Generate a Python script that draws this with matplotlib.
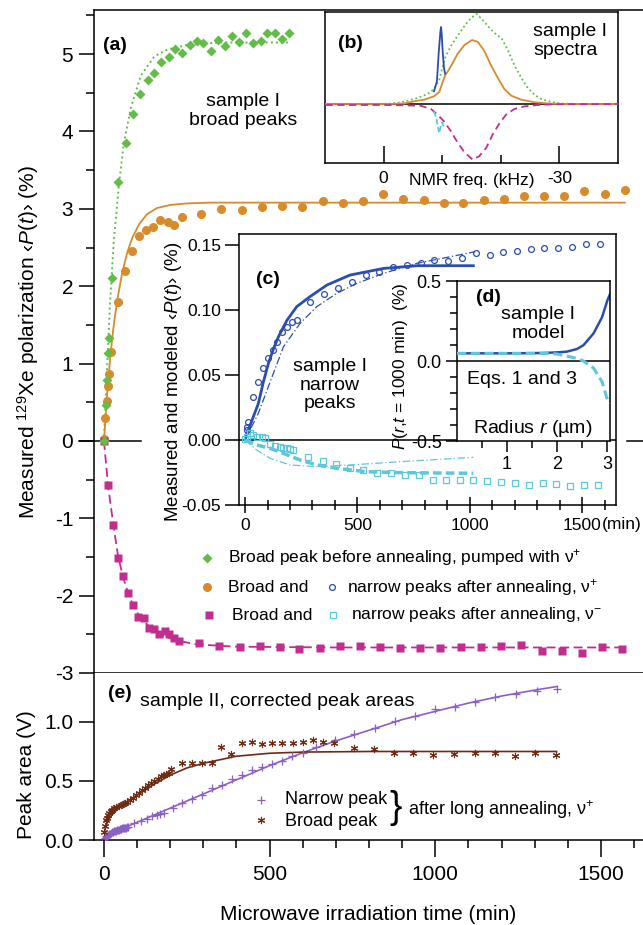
import matplotlib
matplotlib.use("Agg")
import matplotlib.pyplot as plt
from matplotlib.lines import Line2D
from matplotlib.ticker import FixedLocator, MultipleLocator, NullFormatter, FixedFormatter

plt.rcParams['font.family'] = ['Liberation Sans', 'DejaVu Sans']
plt.rcParams['mathtext.fontset'] = 'custom'
plt.rcParams['mathtext.rm'] = 'Liberation Sans'
plt.rcParams['mathtext.it'] = 'Liberation Sans:italic'
plt.rcParams['mathtext.bf'] = 'Liberation Sans:bold'
plt.rcParams['axes.unicode_minus'] = False
plt.rcParams['axes.linewidth'] = 1.1

GREEN = '#62BD48'
ORANGE = '#D68B2C'
MAGENTA = '#C22E90'
BLUE = '#2B4DAE'
CYAN = '#5EC7DB'
PURPLE = '#8B5FC6'
BROWN = '#6E2B14'

# ---------------- panel (a): broad peaks ----------------
green_t = [1, 6, 9, 13, 14, 24, 43, 66, 88, 109, 132, 152, 172, 195, 214, 237, 259, 282, 300,
           322, 344, 365, 386, 408, 430, 451, 473, 493, 515, 538, 558]
green_p = [0.0, 0.47, 0.79, 1.13, 1.33, 2.11, 3.35, 3.85, 4.23, 4.48, 4.66, 4.75, 4.90, 4.96,
           5.06, 5.02, 5.12, 5.17, 5.14, 5.04, 5.18, 5.10, 5.23, 5.15, 5.27, 5.14, 5.17, 5.27,
           5.27, 5.20, 5.27]
green_fit_t = [0, 5, 10, 18, 30, 45, 60, 81, 111, 152, 192, 252, 350, 450, 558]
green_fit_p = [0, 0.5, 1.0, 1.75, 2.6, 3.3, 3.85, 4.3, 4.72, 4.97, 5.06, 5.12, 5.15, 5.15, 5.15]

orange_t = [1, 4, 8, 11, 14, 21, 41, 63, 84, 106, 127, 149, 170, 192, 212, 235, 294, 354, 418,
            478, 538, 598, 661, 721, 781, 842, 903, 965, 1025, 1085, 1146, 1208, 1268, 1329,
            1390, 1450, 1512, 1572]
orange_p = [0.03, 0.30, 0.52, 0.71, 0.86, 1.15, 1.80, 2.19, 2.45, 2.65, 2.73, 2.76, 2.85, 2.83,
            2.79, 2.90, 2.93, 3.00, 2.98, 3.03, 3.04, 3.03, 3.10, 3.08, 3.10, 3.19, 3.13, 3.11,
            3.08, 3.08, 3.11, 3.13, 3.17, 3.17, 3.16, 3.23, 3.19, 3.24]
orange_fit_t = [0, 10, 20, 30, 41, 55, 70, 85, 106, 130, 160, 200, 250, 320, 450, 700, 1000, 1572]
orange_fit_p = [0, 0.62, 1.13, 1.51, 1.84, 2.17, 2.43, 2.62, 2.80, 2.93, 3.01, 3.05, 3.07, 3.08,
                3.08, 3.08, 3.08, 3.08]

mag_t = [0, 13, 28, 43, 58, 73, 88, 102, 121, 135, 152, 167, 184, 197, 212, 227, 287, 347, 410,
         470, 530, 590, 651, 713, 774, 834, 895, 955, 1015, 1077, 1139, 1199, 1259, 1321, 1382,
         1444, 1504, 1565]
mag_p = [0.0, -0.57, -1.09, -1.51, -1.74, -1.97, -2.12, -2.27, -2.29, -2.42, -2.43, -2.49, -2.46,
         -2.49, -2.55, -2.58, -2.61, -2.65, -2.67, -2.65, -2.67, -2.69, -2.68, -2.65, -2.65,
         -2.67, -2.68, -2.68, -2.68, -2.66, -2.67, -2.65, -2.64, -2.71, -2.71, -2.74, -2.67, -2.69]
mag_fit_t = [0, 13, 29, 43, 58, 73, 88, 105, 125, 150, 180, 220, 280, 400, 700, 1000, 1300, 1565]
mag_fit_p = [0, -0.6, -1.1, -1.5, -1.76, -1.97, -2.12, -2.25, -2.35, -2.45, -2.52, -2.58,
             -2.63, -2.66, -2.67, -2.67, -2.67, -2.67]

# ---------------- panel (b): spectra ----------------
spec_green_f = [9.9, 5.1, -0.6, -2.3, -4.1, -5.8, -7.5, -8.6, -9.5, -10.1, -10.6, -11.5, -12.6,
                -13.8, -14.9, -15.9, -16.9, -17.8, -18.9, -20.1, -21.2, -22.3, -23.5, -24.6,
                -25.8, -26.9, -28.6, -30.3, -34.9, -40.2]
spec_green_v = [0, 0, 0.3, 1, 3.3, 6, 10, 15, 24, 38, 48, 58, 68, 78, 86, 90, 84, 78, 71, 66,
                54, 39, 26, 16, 9, 5, 2, 0.5, 0, 0]
spec_orange_f = [9.9, -0.6, -3.5, -5.2, -6.9, -8.6, -9.5, -10.5, -10.9, -11.8, -12.6, -13.8,
                 -15.1, -16.1, -17.2, -18.3, -19.5, -20.6, -21.8, -23.5, -25.8, -28.1, -30.3, -40.2]
spec_orange_v = [0, 0, 0.5, 2.7, 4.3, 7.7, 12, 29, 32, 41, 50, 59, 64, 62, 53, 39, 26, 15, 8.3,
                 4.3, 1.7, 0.5, 0, 0]
spec_blue_f = [-8.6, -9.1, -9.4, -9.7, -9.8, -9.9, -10.1, -10.3, -10.5]
spec_blue_v = [12.7, 22.7, 51, 72.7, 77, 71, 51, 36, 30.3]
spec_mag_f = [9.9, -0.6, -6.3, -8.1, -9.2, -10.3, -11.5, -12.6, -13.8, -15.2, -16.3, -17.5,
              -18.6, -19.8, -20.9, -22.3, -24.1, -26.3, -29.2, -40.2]
spec_mag_v = [-1, -1, -1.7, -5, -10.7, -17.3, -27.3, -38.3, -48.3, -55.7, -52.3, -44, -30.7,
              -19, -10.7, -5, -2.3, -1, -0.3, 0]
spec_cyan_f = [-8.6, -9.0, -9.3, -9.5, -9.8, -10.0, -10.2, -10.5]
spec_cyan_v = [-7.3, -14, -24, -29, -20.7, -18.3, -21.7, -19]

# ---------------- panel (c): narrow peaks ----------------
nb_t = [7, 10, 14, 37, 59, 81, 104, 123, 141, 163, 186, 208, 230, 289, 353, 412, 475, 538, 598,
        660, 720, 782, 841, 905, 964, 1027, 1088, 1150, 1209, 1271, 1332, 1394, 1455, 1516, 1578]
nb_p = [0.0077, 0.0103, 0.0141, 0.0333, 0.0449, 0.0551, 0.0628, 0.0692, 0.0756, 0.0833, 0.0872,
        0.0910, 0.0923, 0.1064, 0.1120, 0.1167, 0.1218, 0.1269, 0.1295, 0.1333, 0.1346, 0.1359,
        0.1385, 0.1380, 0.1397, 0.1436, 0.1423, 0.1449, 0.1456, 0.1467, 0.1474, 0.1479, 0.1487,
        0.1505, 0.1510]
nc_t = [0, 7, 22, 37, 52, 74, 89, 111, 134, 156, 171, 186, 200, 215, 282, 346, 405, 465, 527,
        586, 649, 712, 772, 835, 894, 956, 1016, 1078, 1139, 1201, 1264, 1325, 1384, 1447, 1509,
        1570]
nc_p = [0.0005, 0.0026, 0.0051, 0.0038, 0.0021, 0.0021, 0.0013, -0.0030, -0.0046, -0.0056,
        -0.0064, -0.0064, -0.0072, -0.0077, -0.0133, -0.0162, -0.0185, -0.0213, -0.0231, -0.0251,
        -0.0251, -0.0269, -0.0272, -0.0308, -0.0308, -0.0308, -0.0308, -0.0315, -0.0321,
        -0.0333, -0.0346, -0.0333, -0.0341, -0.0351, -0.0349, -0.0349]
nb_model_t = [0, 15, 37, 59, 82, 104, 126, 150, 186, 230, 289, 364, 467, 616, 764, 1016]
nb_model_p = [0, 0.008, 0.018, 0.028, 0.045, 0.059, 0.07, 0.08, 0.092, 0.1026, 0.1103, 0.1192,
              0.1269, 0.132, 0.1341, 0.1341]
nb_alt_t = [0, 59, 126, 171, 245, 319, 408, 497, 616, 764, 913, 1024]
nb_alt_p = [0, 0.0205, 0.0513, 0.0718, 0.0897, 0.1026, 0.1128, 0.1205, 0.1282, 0.1359, 0.141,
            0.1449]
nc_model_t = [0, 52, 111, 171, 245, 319, 408, 541, 690, 1016]
nc_model_p = [0, -0.0038, -0.0064, -0.0103, -0.0154, -0.0192, -0.0218, -0.0244, -0.0251, -0.0256]
nc_alt_t = [0, 52, 111, 200, 319, 467, 690, 1016]
nc_alt_p = [0, -0.0077, -0.0141, -0.0192, -0.0205, -0.0192, -0.0167, -0.0133]

# ---------------- panel (d): model profile ----------------
r_blue = [0, 0.5, 1.0, 1.5, 1.8, 2.0, 2.19, 2.4, 2.53, 2.73, 2.9, 3.01, 3.06]
p_blue = [0.048, 0.048, 0.048, 0.049, 0.051, 0.054, 0.058, 0.075, 0.099, 0.172, 0.273, 0.381, 0.417]
r_cyan = [0, 0.5, 1.0, 1.5, 1.8, 1.99, 2.19, 2.39, 2.53, 2.73, 2.9, 3.01, 3.06]
p_cyan = [0.048, 0.048, 0.048, 0.048, 0.047, 0.044, 0.031, 0.017, 0.0, -0.044, -0.129, -0.244,
          -0.265]

# ---------------- panel (e): sample II ----------------
narrow_t = [2, 5, 8, 11, 14, 17, 20, 23, 26, 29, 32, 35, 38, 41, 44, 47, 50, 53, 56, 59, 62, 65,
            68, 71, 74, 91, 111, 130, 145, 160, 170, 182, 207, 237, 267, 297, 327, 357, 388, 417,
            448, 478, 506, 536, 568, 600, 640, 696, 754, 817, 877, 940, 1000, 1060, 1120, 1181,
            1244, 1306, 1366]
narrow_v = [0.02, 0.03, 0.035, 0.045, 0.05, 0.055, 0.06, 0.065, 0.07, 0.073, 0.076, 0.08, 0.083,
            0.086, 0.088, 0.09, 0.093, 0.095, 0.098, 0.1, 0.1, 0.103, 0.105, 0.107, 0.11, 0.14,
            0.16, 0.18, 0.2, 0.21, 0.22, 0.23, 0.27, 0.31, 0.35, 0.38, 0.44, 0.47, 0.52, 0.55,
            0.59, 0.62, 0.64, 0.67, 0.71, 0.74, 0.79, 0.85, 0.9, 0.95, 1.01, 1.05, 1.11, 1.13,
            1.17, 1.21, 1.24, 1.26, 1.28]
narrow_fit_t = [0, 50, 100, 200, 300, 400, 500, 600, 700, 800, 900, 1000, 1100, 1200, 1300, 1366]
narrow_fit_v = [0.02, 0.09, 0.15, 0.27, 0.39, 0.51, 0.63, 0.74, 0.84, 0.93, 1.02, 1.09, 1.16,
                1.22, 1.27, 1.30]
broad_t = [0, 3, 6, 9, 12, 16, 20, 25, 31, 37, 44, 51, 58, 65, 71, 80, 88, 96, 106, 116, 125,
           133, 142, 152, 162, 172, 180, 187, 195, 202, 237, 267, 297, 327, 352, 383, 416, 448,
           478, 508, 538, 570, 600, 630, 661, 694, 754, 814, 874, 934, 994, 1056, 1119, 1180,
           1241, 1302, 1364]
broad_v = [0.07, 0.12, 0.17, 0.19, 0.21, 0.23, 0.245, 0.255, 0.27, 0.28, 0.29, 0.30, 0.305, 0.31,
           0.32, 0.34, 0.36, 0.38, 0.40, 0.42, 0.44, 0.47, 0.48, 0.50, 0.52, 0.54, 0.55, 0.56,
           0.57, 0.60, 0.65, 0.65, 0.65, 0.65, 0.79, 0.73, 0.82, 0.83, 0.81, 0.82, 0.82, 0.82,
           0.83, 0.85, 0.83, 0.82, 0.78, 0.77, 0.74, 0.74, 0.72, 0.73, 0.74, 0.74, 0.71, 0.74, 0.72]
broad_fit_t = [0, 10, 20, 40, 60, 80, 100, 150, 200, 250, 300, 350, 400, 500, 600, 800, 1000, 1366]
broad_fit_v = [0.06, 0.15, 0.2, 0.26, 0.3, 0.34, 0.38, 0.47, 0.55, 0.61, 0.65, 0.68, 0.71, 0.735,
               0.745, 0.75, 0.75, 0.75]

time_major = [0, 500, 1000, 1500]

# =====================================================================
W, H = 643, 925
fig = plt.figure(figsize=(W / 100, H / 100), dpi=100)


def axes_px(l, t, r, b):
    return fig.add_axes([l / W, 1 - b / H, (r - l) / W, (b - t) / H])


def ftext(x, y, s, **kw):
    kw.setdefault('ha', 'center')
    kw.setdefault('va', 'center')
    return fig.text(x / W, 1 - y / H, s, **kw)


def fmark(x, y, **kw):
    fig.add_artist(Line2D([x / W], [1 - y / H], transform=fig.transFigure, linestyle='none', **kw))


# ---------- main panel (a) ----------
axa = axes_px(94, 10, 643, 673)
axa.set_xlim(-30, 1627)
axa.set_ylim(-3, 5.57)
axa.spines['right'].set_visible(False)
axa.yaxis.set_major_locator(FixedLocator([-3, -2, -1, 0, 1, 2, 3, 4, 5]))
axa.yaxis.set_major_formatter(FixedFormatter(['-3', '-2', '-1', '0', '1', '2', '3', '4', '5']))
axa.yaxis.set_minor_locator(MultipleLocator(0.5))
axa.xaxis.set_major_locator(FixedLocator(time_major))
axa.xaxis.set_minor_locator(MultipleLocator(100))
axa.xaxis.set_major_formatter(NullFormatter())
axa.tick_params(axis='y', which='major', direction='out', length=11, width=1.1, labelsize=15, pad=4)
axa.tick_params(axis='y', which='minor', direction='out', length=5.5, width=1.1)
axa.tick_params(axis='x', which='major', direction='out', length=10, width=1.1)
axa.tick_params(axis='x', which='minor', direction='out', length=5.5, width=1.1)
axa.set_ylabel(r'Measured $^{129}$Xe polarization ‹$P$($t$)› (%)', fontsize=15)
axa.yaxis.set_label_coords(-0.097, 0.5)

axa.plot([-75, 111], [0, 0], color='black', lw=1.1, clip_on=False, zorder=1)
axa.plot([1578, 1700], [0, 0], color='black', lw=1.1, clip_on=False, zorder=1)

axa.plot(green_fit_t, green_fit_p, color=GREEN, lw=1.4, ls=(0, (1, 1.6)), zorder=2)
axa.plot(orange_fit_t, orange_fit_p, color=ORANGE, lw=1.3, zorder=2)
axa.plot(mag_fit_t, mag_fit_p, color=MAGENTA, lw=1.3, ls=(0, (5, 2.5)), zorder=2)
axa.plot(orange_t, orange_p, 'o', color=ORANGE, ms=6.5, mec='none', zorder=3)
axa.plot(mag_t, mag_p, 's', color=MAGENTA, ms=5.8, mec='none', zorder=3)
axa.plot(green_t, green_p, 'D', color=GREEN, ms=4.6, mec='none', zorder=4)

ftext(115, 45, '(a)', fontsize=14, fontweight='bold')
ftext(243, 111, 'sample I\nbroad peaks', fontsize=14, linespacing=1.1)

# legend of (a)
fmark(207, 558, marker='D', color=GREEN, ms=4.6, mec='none')
fmark(207, 587, marker='o', color=ORANGE, ms=6.5, mec='none')
fmark(209, 615, marker='s', color=MAGENTA, ms=5.8, mec='none')
fmark(332, 587, marker='o', mfc='none', mec=BLUE, ms=4.2, mew=0.9)
fmark(333, 615, marker='s', mfc='none', mec=CYAN, ms=3.8, mew=0.9)
ftext(228, 558, 'Broad peak before annealing, pumped with ν$^{+}$', fontsize=12.5, ha='left')
ftext(228, 587, 'Broad and', fontsize=12.5, ha='left')
ftext(347, 587, 'narrow peaks after annealing, ν$^{+}$', fontsize=12.5, ha='left')
ftext(232, 615, 'Broad and', fontsize=12.5, ha='left')
ftext(351, 615, 'narrow peaks after annealing, ν$^{-}$', fontsize=12.5, ha='left')

# ---------- panel (e) ----------
axe = axes_px(94, 673, 643, 840)
axe.set_xlim(-30, 1627)
axe.set_ylim(0, 1.415)
axe.spines['right'].set_visible(False)
axe.spines['top'].set_visible(False)
axe.xaxis.set_major_locator(FixedLocator(time_major))
axe.xaxis.set_major_formatter(FixedFormatter(['0', '500', '1000', '1500']))
axe.xaxis.set_minor_locator(MultipleLocator(100))
axe.yaxis.set_major_locator(FixedLocator([0, 0.5, 1.0]))
axe.yaxis.set_major_formatter(FixedFormatter(['0.0', '0.5', '1.0']))
axe.tick_params(axis='both', which='major', direction='out', length=11, width=1.1, labelsize=15, pad=4)
axe.tick_params(axis='x', which='major', length=12, pad=6)
axe.tick_params(axis='x', which='minor', direction='out', length=6, width=1.1)
axe.set_xlabel('Microwave irradiation time (min)', fontsize=15)
axe.xaxis.set_label_coords(0.5, -0.39)
axe.set_ylabel('Peak area (V)', fontsize=15)
axe.yaxis.set_label_coords(-0.105, 0.39)

axe.plot(narrow_fit_t, narrow_fit_v, color=PURPLE, lw=1.2, zorder=2)
axe.plot(broad_fit_t, broad_fit_v, color=BROWN, lw=1.2, zorder=2)
axe.plot(narrow_t, narrow_v, '+', color=PURPLE, ms=6, mew=0.9, zorder=3)
axe.plot(broad_t, broad_v, marker=(6, 2, 0), ls='none', color=BROWN, ms=5.2, mew=0.8, zorder=3)

ftext(120, 693, '(e)', fontsize=14, fontweight='bold')
ftext(140, 702, 'sample II, corrected peak areas', fontsize=14, ha='left')
fmark(261, 800, marker='+', color=PURPLE, ms=6, mew=0.9)
fmark(261, 820, marker=(6, 2, 0), color=BROWN, ms=5.2, mew=0.8)
ftext(285, 800, 'Narrow peak', fontsize=13, ha='left')
ftext(285, 821, 'Broad peak', fontsize=13, ha='left')
ftext(396, 808, '}', fontsize=27)
ftext(408, 810, 'after long annealing, ν$^{+}$', fontsize=13, ha='left')

# ---------- inset (b) ----------
axb = axes_px(325, 12, 618, 163)
axb.set_xlim(10, -40)
axb.set_ylim(-59, 92)
axb.set_yticks([])
axb.xaxis.set_major_locator(FixedLocator([0, -30]))
axb.xaxis.set_major_formatter(FixedFormatter(['0', '-30']))
axb.xaxis.set_minor_locator(FixedLocator([-10, -20]))
axb.tick_params(axis='x', which='major', direction='in', length=12, width=1.1, labelsize=12.5, pad=6)
axb.tick_params(axis='x', which='minor', direction='in', length=6, width=1.1)
axb.axhline(0, color='black', lw=1.1, zorder=1)
axb.plot(spec_green_f, spec_green_v, color=GREEN, lw=1.3, ls=(0, (1, 1.5)), zorder=3)
axb.plot(spec_orange_f, spec_orange_v, color=ORANGE, lw=1.3, zorder=3)
axb.plot(spec_blue_f, spec_blue_v, color=BLUE, lw=1.3, zorder=4)
axb.plot(spec_mag_f, spec_mag_v, color=MAGENTA, lw=1.3, ls=(0, (4, 2.5)), zorder=3)
axb.plot(spec_cyan_f, spec_cyan_v, color=CYAN, lw=1.3, ls=(0, (3, 1.5)), zorder=4)
ftext(350, 43, '(b)', fontsize=14, fontweight='bold')
ftext(533, 41, 'sample I\nspectra', fontsize=14, ha='left', linespacing=1.1)
ftext(472, 181, 'NMR freq. (kHz)', fontsize=12.5)

# ---------- inset (c) ----------
axc = axes_px(239, 234, 616, 505)
axc.set_xlim(-27, 1651)
axc.set_ylim(-0.05, 0.1585)
axc.yaxis.set_major_locator(FixedLocator([-0.05, 0.0, 0.05, 0.10, 0.15]))
axc.yaxis.set_major_formatter(FixedFormatter(['-0.05', '0.00', '0.05', '0.10', '0.15']))
axc.xaxis.set_major_locator(FixedLocator(time_major))
axc.xaxis.set_major_formatter(FixedFormatter(['0', '500', '1000', '1500']))
axc.xaxis.set_minor_locator(MultipleLocator(100))
axc.tick_params(axis='y', which='major', direction='out', length=10, width=1.1, labelsize=12.5, pad=3)
axc.tick_params(axis='x', which='major', direction='inout', length=12, width=1.1, labelsize=12.5, pad=3)
axc.tick_params(axis='x', which='minor', direction='inout', length=7, width=1.1)
axc.set_ylabel('Measured and modeled ‹$P$($t$)› (%)', fontsize=13.5)
axc.yaxis.set_label_coords(-0.145, 0.455)
axc.axhline(0, color='black', lw=1.1, zorder=1)
axc.plot(nb_alt_t, nb_alt_p, color=BLUE, lw=0.9, ls=(0, (6, 2, 1, 2)), zorder=2)
axc.plot(nc_alt_t, nc_alt_p, color=CYAN, lw=0.9, ls=(0, (6, 2, 1, 2)), zorder=2)
axc.plot(nb_model_t, nb_model_p, color=BLUE, lw=2.0, zorder=3)
axc.plot(nc_model_t, nc_model_p, color=CYAN, lw=2.5, ls=(0, (2.5, 1.2)), zorder=3)
axc.plot(nb_t, nb_p, 'o', mfc='none', mec=BLUE, ms=4.2, mew=0.9, zorder=4)
axc.plot(nc_t, nc_p, 's', mfc='none', mec=CYAN, ms=3.8, mew=0.9, zorder=4)
ftext(268, 280, '(c)', fontsize=14, fontweight='bold')
ftext(330, 385, 'sample I\nnarrow\npeaks', fontsize=14, linespacing=1.1)
ftext(622, 524, '(min)', fontsize=12.5)

# ---------- inset (d) ----------
axd = axes_px(457, 281, 610, 441)
axd.set_xlim(0, 3.06)
axd.set_ylim(-0.5, 0.5)
axd.yaxis.set_major_locator(FixedLocator([-0.5, 0.0, 0.5]))
axd.yaxis.set_major_formatter(FixedFormatter(['-0.5', '0.0', '0.5']))
axd.yaxis.set_minor_locator(MultipleLocator(0.1))
axd.xaxis.set_major_locator(FixedLocator([1, 2, 3]))
axd.xaxis.set_major_formatter(FixedFormatter(['1', '2', '3']))
axd.xaxis.set_minor_locator(FixedLocator([0.5, 1.5, 2.5]))
axd.tick_params(axis='both', which='major', direction='out', length=8, width=1.1, labelsize=13, pad=3)
axd.tick_params(axis='both', which='minor', direction='out', length=5, width=1.1)
axd.set_ylabel('$P$($r$,$t$ = 1000 min)  (%)', fontsize=12.5)
axd.yaxis.set_label_coords(-0.31, 0.47)
axd.axhline(0, color='black', lw=1.1, zorder=1)
axd.plot(r_blue, p_blue, color=BLUE, lw=1.8, zorder=2)
axd.plot(r_cyan, p_cyan, color=CYAN, lw=2.2, ls=(0, (3, 1.5)), zorder=3)
ftext(488, 298, '(d)', fontsize=14, fontweight='bold')
ftext(538, 324, 'sample I\nmodel', fontsize=14, linespacing=1.1)
ftext(522, 380, 'Eqs. 1 and 3', fontsize=14)
ftext(533, 429, 'Radius $r$ (µm)', fontsize=14)

fig.savefig('out.png', dpi=100)
